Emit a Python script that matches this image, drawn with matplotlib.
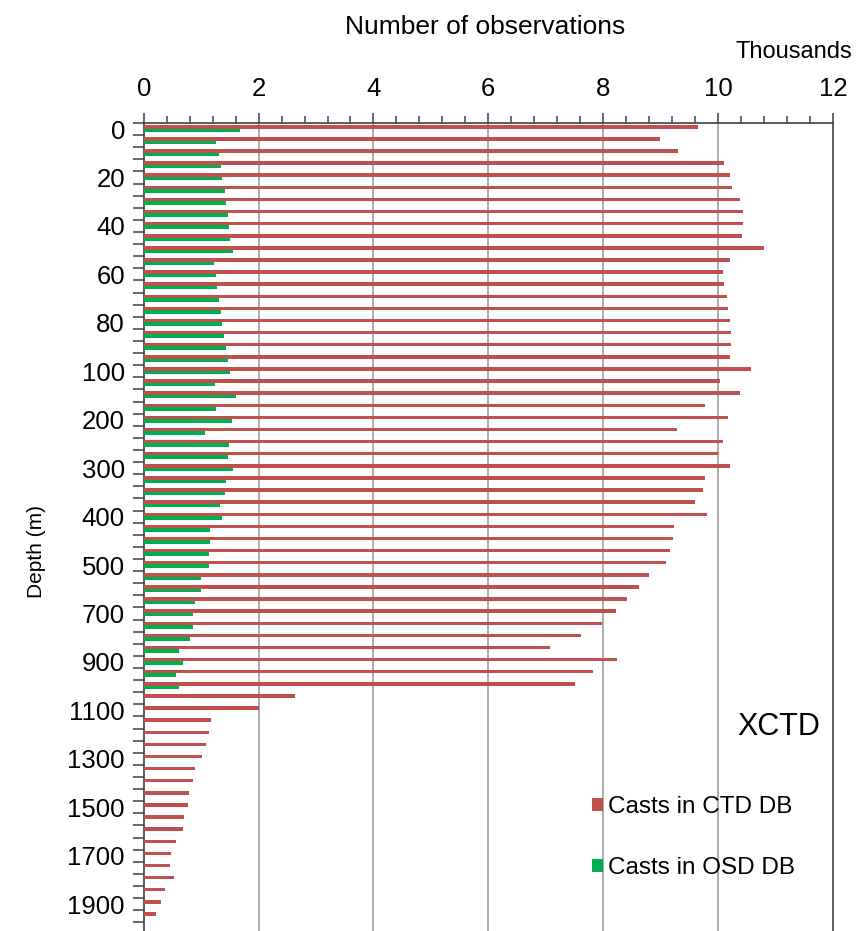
import matplotlib
matplotlib.use("Agg")
import matplotlib.pyplot as plt
import numpy as np

plt.rcParams['font.family'] = ['Liberation Sans', 'DejaVu Sans']

# Depth levels (m)
depths = list(range(0, 101, 5)) + list(range(125, 501, 25)) + list(range(550, 1951, 50))

# Number of casts (thousands)
ctd_casts = [9.65, 8.98, 9.31, 10.11, 10.21, 10.25, 10.38, 10.43, 10.43, 10.41, 10.80,
             10.21, 10.09, 10.11, 10.16, 10.18, 10.21, 10.23, 10.23, 10.21, 10.58,
             10.03, 10.38, 9.78, 10.18, 9.29, 10.09, 9.99, 10.21, 9.78, 9.74, 9.60,
             9.80, 9.24, 9.22, 9.17, 9.09,
             8.80, 8.62, 8.42, 8.22, 7.97, 7.62, 7.08, 8.24, 7.82, 7.50, 2.64, 2.01,
             1.17, 1.13, 1.08, 1.01, 0.89, 0.86, 0.79, 0.77, 0.70, 0.68, 0.57, 0.48,
             0.46, 0.52, 0.37, 0.30, 0.21]
osd_casts = [1.68, 1.26, 1.31, 1.35, 1.37, 1.42, 1.44, 1.46, 1.49, 1.51, 1.55,
             1.22, 1.26, 1.28, 1.31, 1.35, 1.37, 1.40, 1.44, 1.46, 1.50,
             1.24, 1.60, 1.26, 1.53, 1.06, 1.49, 1.46, 1.55, 1.44, 1.42, 1.33,
             1.37, 1.15, 1.15, 1.13, 1.13,
             0.99, 0.99, 0.90, 0.86, 0.86, 0.81, 0.61, 0.68, 0.57, 0.61]

x_ticks = [0, 2, 4, 6, 8, 10, 12]
series_labels = ["Casts in CTD DB", "Casts in OSD DB"]
red = "#C0504D"
green = "#00B050"

W, H = 856, 931
fig = plt.figure(figsize=(W / 100, H / 100), dpi=100)
ax = fig.add_axes([143.7 / W, (H - 934.4) / H, (833 - 143.7) / W, (934.4 - 123) / H])

pos = np.arange(len(depths))
pos_osd = np.arange(len(osd_casts))
h_red = ax.barh(pos - 0.19, ctd_casts, height=0.29, color=red, zorder=3,
                label=series_labels[0])
h_green = ax.barh(pos_osd + 0.10, osd_casts, height=0.29, color=green, zorder=3,
                  label=series_labels[1])

ax.set_xlim(0, 12)
ax.set_ylim(len(depths) + 0.5, -0.5)

# top axis
ax.xaxis.tick_top()
ax.set_xticks(x_ticks)
ax.set_xticklabels([str(t) for t in x_ticks], fontsize=18.5)
ax.set_xticks(np.arange(0, 12.01, 0.4), minor=True)
ax.tick_params(axis='x', which='major', direction='out', length=7, width=1.1,
               color='#404040', pad=8.5)
ax.tick_params(axis='x', which='minor', direction='out', length=5, width=1.1,
               color='#404040')

# left axis: ticks at category boundaries, labels every 4th category
ax.set_yticks(np.arange(-0.5, len(depths) + 0.6, 1.0))
ax.set_yticklabels([])
lab_idx = list(range(0, len(depths), 4))
ax.set_yticks(lab_idx, minor=True)
ax.set_yticklabels([str(depths[i]) for i in lab_idx], minor=True, fontsize=18.5)
ax.tick_params(axis='y', which='major', direction='out', length=8, width=1.1,
               color='#404040')
ax.tick_params(axis='y', which='minor', length=0, pad=13.5)

# gridlines
for t in x_ticks[1:-1]:
    ax.axvline(t, color='#A0A0A0', lw=1.2, zorder=1)

for s in ['left', 'top', 'right']:
    ax.spines[s].set_color('#404040')
    ax.spines[s].set_linewidth(1.2)
ax.spines['bottom'].set_visible(False)

fig.text(485 / W, 1 - 27 / H, "Number of observations", ha='center', va='center',
         fontsize=19)
fig.text(852 / W, 1 - 52 / H, "Thousands", ha='right', va='center', fontsize=17)
fig.text(37 / W, 1 - 551 / H, "Depth (m)", ha='center', va='center', rotation=90,
         fontsize=15)

ax.text(0.861, 0.255, "XCTD", transform=ax.transAxes, ha='left', va='center',
        fontsize=22)

ax.legend(handles=[h_red, h_green], loc='center left', bbox_to_anchor=(0.619, 0.119),
          frameon=False, fontsize=17.5, handlelength=0.45, handleheight=0.45,
          handletextpad=0.2, labelspacing=1.6)

fig.savefig("out.png", dpi=100)
